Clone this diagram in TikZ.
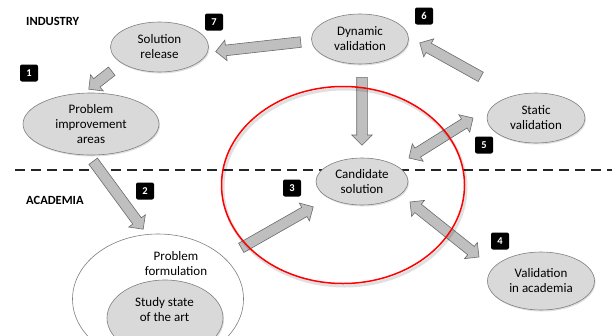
\documentclass[tikz,border=0pt]{standalone}
\usepackage{fontspec}
\setmainfont{Carlito}
\usetikzlibrary{shapes.geometric,shapes.arrows,calc,shadows}

\definecolor{bubblefill}{HTML}{D9D9D9}
\definecolor{bubblerim}{HTML}{7F7F7F}
\definecolor{shaftfill}{HTML}{BFBFBF}
\definecolor{shaftrim}{HTML}{6A6A6A}
\definecolor{focusred}{HTML}{FF0000}

\tikzset{
  bubble/.style={ellipse, draw=bubblerim, fill=bubblefill, line width=0.6pt,
    align=center, inner sep=0pt, font=\fontsize{13}{15}\selectfont,
    drop shadow={opacity=0.25, shadow xshift=1pt, shadow yshift=-1.5pt}},
  hollow/.style={ellipse, draw=bubblerim, fill=white, line width=0.6pt, inner sep=0pt},
  caption/.style={align=center, inner sep=0pt, font=\fontsize{13}{15}\selectfont},
  region/.style={anchor=west, inner sep=0pt, font=\bfseries\fontsize{12.5}{14}\selectfont},
  badge/.style={fill=black, rounded corners=2pt, text=white, inner sep=0pt,
    minimum width=18pt, minimum height=17pt, font=\bfseries\fontsize{10.5}{12}\selectfont},
  fatarrow/.style={single arrow, draw=shaftrim, fill=shaftfill, line width=0.6pt,
    inner xsep=0pt, inner ysep=5pt, single arrow head extend=5pt,
    single arrow tip angle=90, minimum width=1pt},
  twinarrow/.style={double arrow, draw=shaftrim, fill=shaftfill, line width=0.6pt,
    inner xsep=0pt, inner ysep=5pt, double arrow head extend=5pt,
    double arrow tip angle=90, minimum width=1pt},
  divider/.style={dashed, dash pattern=on 10pt off 6pt, line width=1.3pt, black!85},
}

% block arrow from the first coordinate (tail) to the second (tip)
\newcommand\blockarrow[2]{%
  \path let \p1=($(#2)-(#1)$), \n1={atan2(\y1,\x1)}, \n2={veclen(\x1,\y1)} in
    node[fatarrow, minimum height=\n2, rotate=\n1, anchor=tail] at (#1) {};}
% two-headed block arrow between two coordinates
\newcommand\twinblock[2]{%
  \path let \p1=($(#2)-(#1)$), \n1={atan2(\y1,\x1)}, \n2={veclen(\x1,\y1)} in
    node[twinarrow, minimum height=\n2, rotate=\n1] at ($(#1)!0.5!(#2)$) {};}

\begin{document}
\begin{tikzpicture}[x=1pt,y=-1pt]
  \useasboundingbox (0,0) rectangle (612,335);
  \clip (0,0) rectangle (612,335);

  % industry / academia divider
  \coordinate (divL) at (15,170);
  \coordinate (divR) at (612,170);
  \draw[divider] (divL) -- (divR);
  \node[region] (industry) at (26,21) {INDUSTRY};
  \node[region] (academia) at (26,200) {ACADEMIA};

  % activities
  \node[bubble, minimum width=98pt, minimum height=50pt] (release) at (159.5,47) {Solution\\release};
  \node[bubble, minimum width=136pt, minimum height=62pt] (improve) at (91,124) {Problem\\improvement\\areas};
  \node[bubble, minimum width=97pt, minimum height=50pt] (dynamic) at (360,39) {Dynamic\\validation};
  \node[bubble, minimum width=98pt, minimum height=50pt] (static) at (536,118) {Static\\validation};
  \node[bubble, minimum width=92pt, minimum height=47pt] (candidate) at (362,181.5) {Candidate\\solution};
  \node[bubble, minimum width=107pt, minimum height=58pt] (academic) at (541,281) {Validation\\in academia};

  % problem formulation containing the state-of-the-art study
  \node[hollow, minimum width=171pt, minimum height=130pt] (formulation) at (158,299) {};
  \node[caption] (formtext) at (176,263.5) {Problem\\formulation};
  \node[bubble, minimum width=116pt, minimum height=76pt] (stateart) at (165,318) {};
  \node[caption] (statetext) at (164.5,309.5) {Study state\\of the art};

  % arrow end points
  \coordinate (dynL)  at (301,42);   \coordinate (relR)  at (216,51.5);
  \coordinate (relB)  at (112,71);   \coordinate (impT)  at (89,89);
  \coordinate (impB)  at (93,161);   \coordinate (formT) at (143,229);
  \coordinate (formR) at (241,248);  \coordinate (candL) at (313,207);
  \coordinate (candR) at (410,202);  \coordinate (acadT) at (479,257);
  \coordinate (candU) at (409,158);  \coordinate (statL) at (473,118);
  \coordinate (statT) at (481,77);   \coordinate (dynR)  at (420,43);
  \coordinate (dynB)  at (362,77);   \coordinate (candT) at (362,145);

  \blockarrow{dynL}{relR}
  \blockarrow{relB}{impT}
  \blockarrow{impB}{formT}
  \blockarrow{formR}{candL}
  \twinblock{candR}{acadT}
  \twinblock{candU}{statL}
  \blockarrow{statT}{dynR}
  \blockarrow{dynB}{candT}

  % step numbers
  \node[badge] (s1) at (29,73)   {1};
  \node[badge] (s2) at (145,191) {2};
  \node[badge] (s3) at (292,188) {3};
  \node[badge] (s4) at (500,241) {4};
  \node[badge] (s5) at (484,145) {5};
  \node[badge] (s6) at (424,16)  {6};
  \node[badge] (s7) at (214,22)  {7};

  % focus ring round the candidate solution
  \draw[black, opacity=0.12, line width=3pt, shift={(1.5pt,-2.5pt)}]
    (343,185) ellipse [x radius=121.5pt, y radius=98.5pt];
  \draw[focusred, line width=1.5pt]
    (343,185) ellipse [x radius=121.5pt, y radius=98.5pt];
\end{tikzpicture}
\end{document}
